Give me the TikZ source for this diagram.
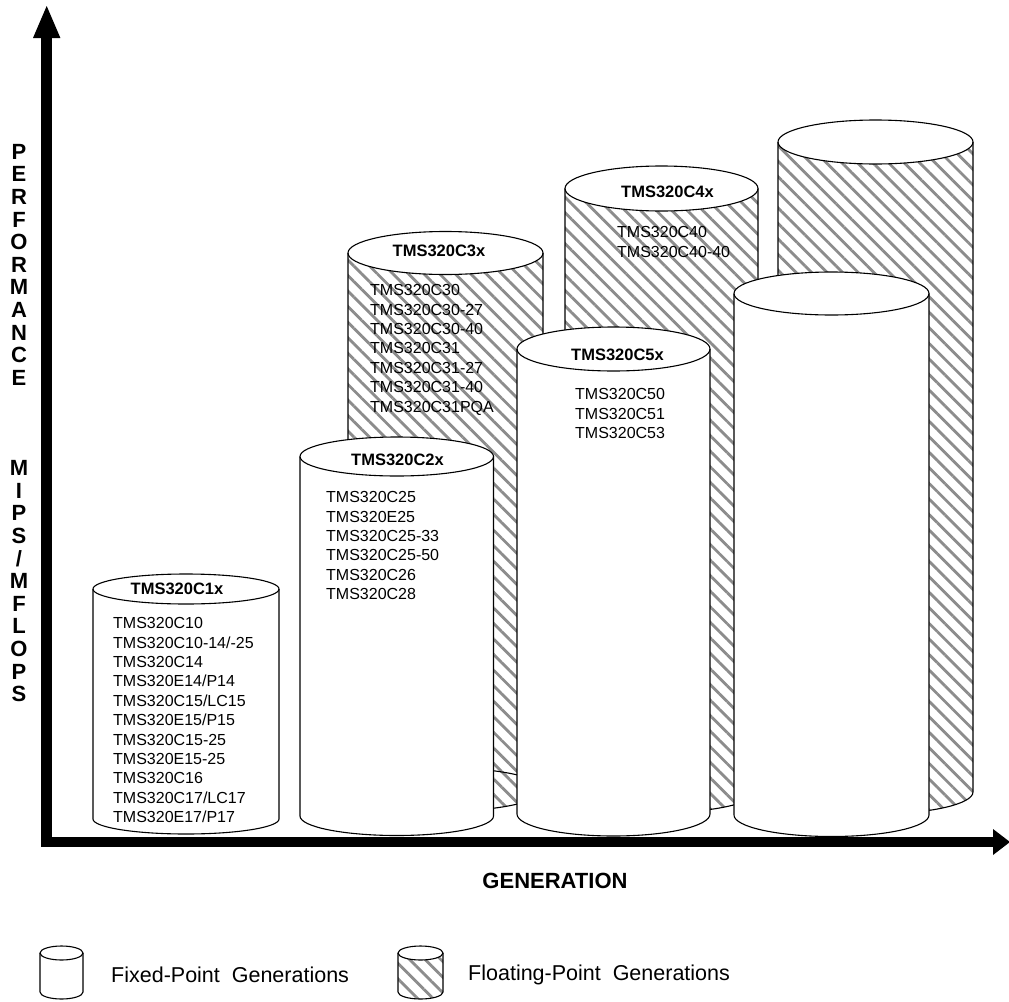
\documentclass[tikz,border=0pt]{standalone}
\usepackage{fontspec}
\setmainfont{Liberation Sans}
\usetikzlibrary{patterns.meta}

% cylinder: centre x, top y, bottom y, x radius, y radius, body style
\newcommand\gencyl[6]{%
  \path[#6] ({#1-#4},#2) -- ({#1-#4},#3)
    arc[start angle=180,end angle=0,x radius=#4,y radius=#5] -- ({#1+#4},#2)
    arc[start angle=0,end angle=-180,x radius=#4,y radius=#5] -- cycle;
  \draw[cylline,fill=white] (#1,#2) ellipse[x radius=#4,y radius=#5];
  \draw[cylline] ({#1-#4},#2) -- ({#1-#4},#3)
    arc[start angle=180,end angle=0,x radius=#4,y radius=#5] -- ({#1+#4},#2);
}

\begin{document}
\begin{tikzpicture}[x=1pt,y=-1pt,
    cylline/.style={line width=1.1pt},
    fixedbody/.style={fill=white},
    floatbody/.style={preaction={fill=white},
      pattern={Lines[angle=-45,distance=11pt,line width=2.8pt]},pattern color=black!45},
    title/.style={font=\bfseries\fontsize{16.5}{19}\selectfont},
    partlist/.style={anchor=north west,inner sep=0pt,align=left,
      font=\fontsize{16}{19.4}\selectfont},
    axis/.style={line width=10.5pt},
    axislabel/.style={font=\bfseries\fontsize{22}{22.6}\selectfont,align=center,inner sep=0pt},
    legendtext/.style={font=\fontsize{21.5}{24}\selectfont,anchor=west,inner sep=0pt}]
    \useasboundingbox (0,0) rectangle (1009,1001);

    % cylinders, back to front
    \gencyl{661.5}{188.5}{790}{96.5}{22.5}{floatbody}
    \gencyl{875.5}{142}{792}{97.5}{22}{floatbody}
    \gencyl{445.5}{253}{789.5}{97.5}{21.5}{floatbody}
    \draw[cylline] (348,789.5) arc[start angle=180,end angle=360,x radius=97.5,y radius=21.5];
    \gencyl{613.5}{349}{814}{96.5}{22}{fixedbody}
    \gencyl{831.5}{293.5}{815}{97.5}{21.5}{fixedbody}
    \gencyl{396.75}{456.5}{816}{96.75}{19.5}{fixedbody}
    \gencyl{186}{589}{819}{93}{15}{fixedbody}

    % axes
    \coordinate (ytop) at (46.7,38);
    \coordinate (origin) at (46.7,842);
    \coordinate (xend) at (993,842);
    \draw[axis] (ytop) -- (origin) -- (xend);
    \fill (33,38) -- (46.7,6) -- (60.4,38) -- cycle;
    \fill (993,829) -- (1010,842) -- (993,855) -- cycle;

    % titles
    \node[title] (c1x) at (177,589) {TMS320C1x};
    \node[title] (c2x) at (397.5,460) {TMS320C2x};
    \node[title] (c3x) at (439,251) {TMS320C3x};
    \node[title] (c4x) at (667.5,192) {TMS320C4x};
    \node[title] (c5x) at (617.5,355) {TMS320C5x};

    % device lists
    \node[partlist] (c1xlist) at (113,617.3) {TMS320C10\\TMS320C10-14/-25\\TMS320C14\\
      TMS320E14/P14\\TMS320C15/LC15\\TMS320E15/P15\\TMS320C15-25\\TMS320E15-25\\
      TMS320C16\\TMS320C17/LC17\\TMS320E17/P17};
    \node[partlist] (c2xlist) at (326,491.3) {TMS320C25\\TMS320E25\\TMS320C25-33\\
      TMS320C25-50\\TMS320C26\\TMS320C28};
    \node[partlist] (c3xlist) at (370,284.3) {TMS320C30\\TMS320C30-27\\TMS320C30-40\\
      TMS320C31\\TMS320C31-27\\TMS320C31-40\\TMS320C31PQA};
    \node[partlist] (c4xlist) at (617,226.3) {TMS320C40\\TMS320C40-40};
    \node[partlist] (c5xlist) at (575,388.3) {TMS320C50\\TMS320C51\\TMS320C53};

    % axis labels
    \node[axislabel,anchor=north] (perf) at (19,144) {P\\E\\R\\F\\O\\R\\M\\A\\N\\C\\E\\~\\~\\~\\
      M\\I\\P\\S\\/\\M\\F\\L\\O\\P\\S};
    \node[axislabel] (gen) at (555,881) {GENERATION};

    % legend
    \gencyl{61.5}{953}{992}{21.5}{7}{fixedbody}
    \gencyl{420.5}{953}{992}{22.5}{7}{floatbody}
    \node[legendtext] (fixedkey) at (111,975) {Fixed-Point\ \ Generations};
    \node[legendtext] (floatkey) at (468,975) {Floating-Point\ \ Generations};
\end{tikzpicture}
\end{document}
